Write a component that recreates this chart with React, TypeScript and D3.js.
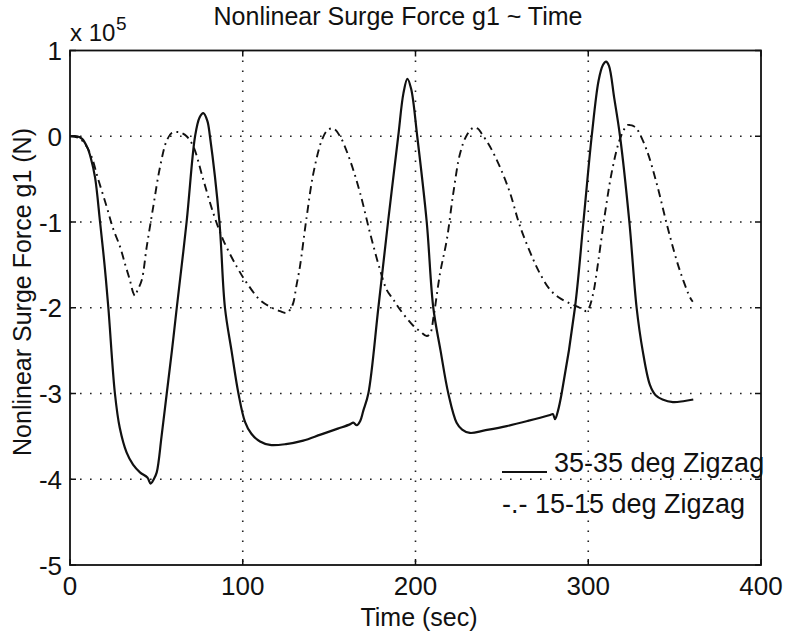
import React from "react";
import * as d3 from "d3";

// Data (force in units of 1e5 N)
const solidT = [0, 4, 7, 10, 12, 14.5, 17.4, 20, 22.2, 26, 28.8, 32.8, 36.5, 40.5, 44.8, 46.7, 48.5, 50.2, 53, 56, 59, 61.8, 67.5, 72.4, 75, 77.2, 79.5, 81, 86.5, 89.7, 93.5, 97.5, 101.3, 105, 110, 115.8, 125, 135, 145, 155, 162, 164, 166, 168, 169.8, 172.7, 178.5, 184.1, 190, 193, 195.3, 197.5, 201, 206.5, 210.3, 214.5, 219, 223.8, 227, 231.5, 240, 252.8, 265, 277.9, 279.5, 280.8, 282.5, 284.6, 292.3, 297.2, 302, 306, 308.5, 310.3, 312, 315, 318.4, 323.8, 328, 331.5, 335.7, 339, 343, 349, 355, 360.8];
const solidV = [0, 0, -0.03, -0.13, -0.25, -0.48, -1.0, -1.5, -2.0, -3.0, -3.4, -3.69, -3.83, -3.92, -3.98, -4.05, -4.0, -3.92, -3.5, -3.0, -2.5, -2.0, -1.0, 0, 0.22, 0.27, 0.18, 0, -1.0, -2.0, -2.5, -3.0, -3.33, -3.47, -3.56, -3.6, -3.59, -3.55, -3.48, -3.41, -3.36, -3.34, -3.37, -3.32, -3.2, -3.0, -2.0, -1.0, 0, 0.5, 0.67, 0.55, 0, -1.0, -2.0, -2.5, -3.0, -3.34, -3.42, -3.46, -3.43, -3.38, -3.32, -3.25, -3.24, -3.3, -3.2, -3.0, -2.0, -1.0, 0, 0.65, 0.83, 0.87, 0.82, 0.45, 0, -1.0, -2.0, -2.5, -2.9, -3.02, -3.07, -3.1, -3.09, -3.07];

const dashT = [0, 5, 9, 12.5, 16, 21.2, 25, 29, 32, 34.7, 36.5, 37.6, 39, 41.5, 44.4, 48.2, 52.1, 56, 59, 61.8, 64.5, 67.5, 71.4, 77.2, 83, 88.7, 96.5, 102.3, 110, 116, 121.6, 125.4, 127.5, 129.3, 131, 133.1, 137, 140.9, 145.7, 149, 152.5, 156.3, 162.1, 167.9, 173.7, 179.5, 183.3, 187, 191, 198.7, 203, 206.5, 208.5, 210.5, 214.2, 218.1, 221.9, 225.8, 229.6, 233.5, 236, 238.3, 243.1, 248.9, 254.7, 260.5, 268.2, 272, 277.9, 283, 289.4, 295, 299, 300.5, 302.9, 304.8, 309.7, 313.5, 317.4, 320, 322.5, 324.2, 326, 328, 333.8, 339.6, 345.4, 351.2, 355, 358.9, 360.5];
const dashV = [0, -0.02, -0.1, -0.24, -0.48, -0.82, -1.08, -1.29, -1.5, -1.68, -1.82, -1.86, -1.8, -1.68, -1.29, -0.82, -0.36, -0.05, 0.04, 0.05, 0.04, 0.0, -0.12, -0.51, -0.9, -1.21, -1.52, -1.71, -1.91, -1.99, -2.04, -2.06, -2.02, -1.94, -1.75, -1.52, -0.94, -0.43, -0.05, 0.07, 0.09, 0.0, -0.28, -0.66, -1.13, -1.56, -1.79, -1.9, -2.02, -2.21, -2.28, -2.33, -2.3, -2.1, -1.6, -1.21, -0.66, -0.2, 0.01, 0.1, 0.09, 0.03, -0.12, -0.36, -0.66, -1.05, -1.44, -1.6, -1.79, -1.88, -1.95, -2.0, -2.04, -2.0, -1.83, -1.6, -0.9, -0.43, -0.09, 0.05, 0.13, 0.13, 0.12, 0.09, -0.16, -0.55, -1.02, -1.45, -1.68, -1.88, -1.93];

const xTicks = [0, 100, 200, 300, 400];
const yTicks = [1, 0, -1, -2, -3, -4, -5];
const legendLabels = ["35-35 deg Zigzag", "-.- 15-15 deg Zigzag"];

const W = 788, H = 633;
const L = 70, R = 761, T = 50.5, B = 565;
const FONT = "'Liberation Sans', Arial, Helvetica, sans-serif";

export default function App() {
  const x = d3.scaleLinear().domain([0, 400]).range([L, R]);
  const y = d3.scaleLinear().domain([-5, 1]).range([B, T]);
  const line = d3.line<[number, number]>()
    .x((d) => x(d[0]))
    .y((d) => y(d[1]))
    .curve(d3.curveCatmullRom.alpha(0.5));
  const solid = solidT.map((t, i) => [t, solidV[i]] as [number, number]);
  const dash = dashT.map((t, i) => [t, dashV[i]] as [number, number]);

  return (
    <svg width={W} height={H} style={{ position: "absolute", left: 0, top: 0, background: "#fff" }}>
      <rect x={0} y={0} width={W} height={H} fill="#fff" />
      {/* grid */}
      {xTicks.slice(1, -1).map((t) => (
        <line key={"gx" + t} x1={x(t)} x2={x(t)} y1={T} y2={B} stroke="#222" strokeWidth={1.6} strokeDasharray="1.6,8.4" />
      ))}
      {yTicks.slice(1, -1).map((t) => (
        <line key={"gy" + t} x1={L} x2={R} y1={y(t)} y2={y(t)} stroke="#222" strokeWidth={1.6} strokeDasharray="1.6,8.4" />
      ))}
      {/* ticks */}
      {xTicks.map((t) => (
        <g key={"tx" + t}>
          <line x1={x(t)} x2={x(t)} y1={B} y2={B - 6} stroke="#111" strokeWidth={1.5} />
          <line x1={x(t)} x2={x(t)} y1={T} y2={T + 6} stroke="#111" strokeWidth={1.5} />
          <text x={x(t)} y={595} textAnchor="middle" fontFamily={FONT} fontSize={26} fill="#111">{t}</text>
        </g>
      ))}
      {yTicks.map((t) => (
        <g key={"ty" + t}>
          <line x1={L} x2={L + 6} y1={y(t)} y2={y(t)} stroke="#111" strokeWidth={1.5} />
          <line x1={R} x2={R - 6} y1={y(t)} y2={y(t)} stroke="#111" strokeWidth={1.5} />
          <text x={62} y={y(t) + 9.5} textAnchor="end" fontFamily={FONT} fontSize={26} fill="#111">{t}</text>
        </g>
      ))}
      {/* data */}
      <path d={line(dash) || ""} fill="none" stroke="#111" strokeWidth={1.9} strokeDasharray="8,4.5,1.8,4.5" />
      <path d={line(solid) || ""} fill="none" stroke="#111" strokeWidth={2.2} />
      {/* box */}
      <rect x={L} y={T} width={R - L} height={B - T} fill="none" stroke="#111" strokeWidth={1.8} />
      {/* exponent */}
      <text x={70} y={41} fontFamily={FONT} fontSize={24} fill="#111">x 10</text>
      <text x={116} y={30} fontFamily={FONT} fontSize={19} fill="#111">5</text>
      {/* title */}
      <text x={398} y={25} textAnchor="middle" fontFamily={FONT} fontSize={25} fill="#111">Nonlinear Surge Force g1 ~ Time</text>
      {/* x label */}
      <text x={419} y={626} textAnchor="middle" fontFamily={FONT} fontSize={25} fill="#111">Time (sec)</text>
      {/* y label */}
      <text transform="translate(31,292) rotate(-90)" textAnchor="middle" fontFamily={FONT} fontSize={25} fill="#111">Nonlinear Surge Force g1 (N)</text>
      {/* legend */}
      <line x1={502} x2={547} y1={472} y2={472} stroke="#111" strokeWidth={2} />
      <text x={554} y={472} fontFamily={FONT} fontSize={27} fill="#111">{legendLabels[0]}</text>
      <text x={502} y={513} fontFamily={FONT} fontSize={27} fill="#111">{legendLabels[1]}</text>
    </svg>
  );
}
